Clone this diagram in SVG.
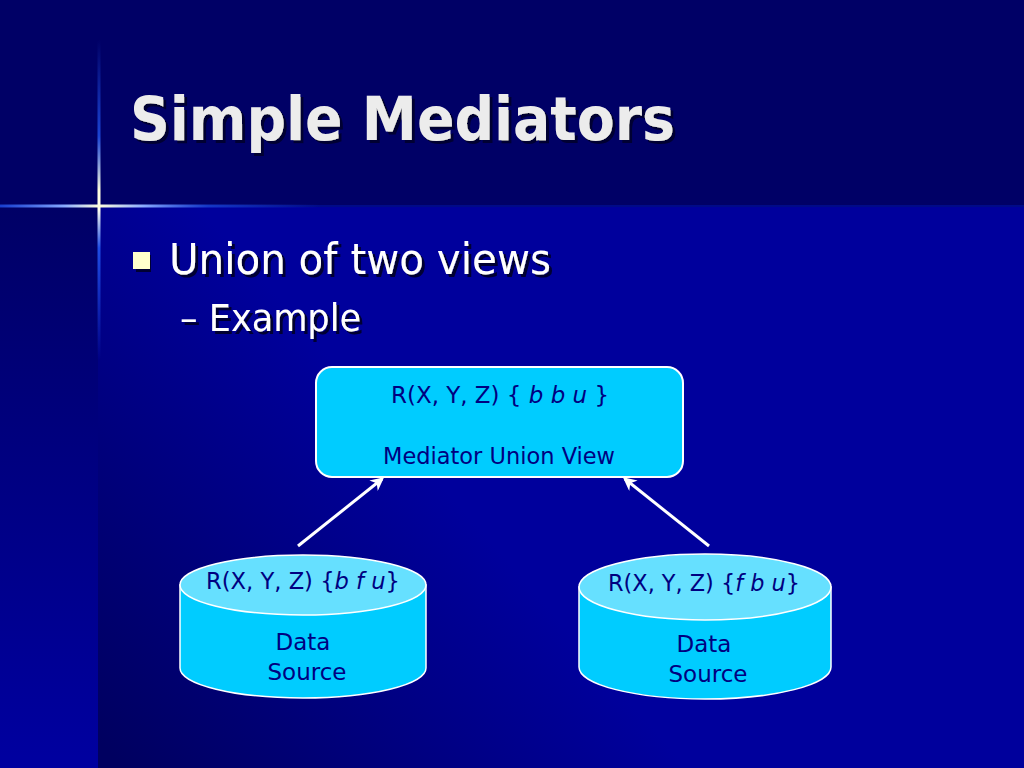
<svg xmlns="http://www.w3.org/2000/svg" width="1024" height="768" viewBox="0 0 1024 768">
  <defs>
    <linearGradient id="leftStrip" x1="0" y1="207" x2="0" y2="768" gradientUnits="userSpaceOnUse">
      <stop offset="0" stop-color="#000066"/>
      <stop offset="1" stop-color="#0000a0"/>
    </linearGradient>
    <linearGradient id="mainPanel" x1="98" y1="740" x2="420" y2="460" gradientUnits="userSpaceOnUse">
      <stop offset="0" stop-color="#000060"/>
      <stop offset="1" stop-color="#00009c"/>
    </linearGradient>
    <linearGradient id="vGlow" x1="0" y1="40" x2="0" y2="360" gradientUnits="userSpaceOnUse">
      <stop offset="0" stop-color="#2255ee" stop-opacity="0"/>
      <stop offset="0.3" stop-color="#2255ee" stop-opacity="0.8"/>
      <stop offset="0.47" stop-color="#ffffdd"/>
      <stop offset="0.53" stop-color="#ffffee"/>
      <stop offset="0.65" stop-color="#2255ee" stop-opacity="0.9"/>
      <stop offset="1" stop-color="#2255ee" stop-opacity="0"/>
    </linearGradient>
    <linearGradient id="hGlow" x1="0" y1="0" x2="320" y2="0" gradientUnits="userSpaceOnUse">
      <stop offset="0" stop-color="#2255ee" stop-opacity="0.7"/>
      <stop offset="0.2" stop-color="#88aaff"/>
      <stop offset="0.31" stop-color="#ffffdd"/>
      <stop offset="0.45" stop-color="#88aaff"/>
      <stop offset="0.65" stop-color="#2255ee" stop-opacity="0.6"/>
      <stop offset="1" stop-color="#2255ee" stop-opacity="0"/>
    </linearGradient>
    <filter id="textShadow" x="-5%" y="-20%" width="110%" height="140%">
      <feOffset in="SourceAlpha" dx="3" dy="3" result="off"/>
      <feFlood flood-color="#000033"/>
      <feComposite in2="off" operator="in" result="sh"/>
      <feMerge>
        <feMergeNode in="sh"/>
        <feMergeNode in="SourceGraphic"/>
      </feMerge>
    </filter>
    <marker id="arrow" viewBox="0 0 10 10" refX="8" refY="5" markerWidth="4.5" markerHeight="4.5" orient="auto" markerUnits="strokeWidth">
      <path d="M0,0 L10,5 L0,10 L3,5 Z" fill="#ffffff"/>
    </marker>
    <style>
      .title { font-family: "DejaVu Sans", "Liberation Sans", sans-serif; font-weight: bold; font-size: 60px; fill: #ececec; filter: url(#textShadow); }
      .body { font-family: "DejaVu Sans", "Liberation Sans", sans-serif; fill: #ffffff; filter: url(#textShadow); }
      .node-text { font-family: "DejaVu Sans", "Liberation Sans", sans-serif; font-size: 23px; fill: #000080; }
      .box { fill: #00ccff; stroke: #ffffff; stroke-width: 2; }
      .cyl-body { fill: #00ccff; stroke: #ffffff; stroke-width: 1.5; }
      .cyl-top { fill: #66e0ff; stroke: #ffffff; stroke-width: 1.5; }
      .conn { stroke: #ffffff; stroke-width: 3; fill: none; marker-end: url(#arrow); }
    </style>
  </defs>

  <!-- background -->
  <rect x="0" y="0" width="1024" height="768" fill="#000066"/>
  <rect x="0" y="207" width="98" height="561" fill="url(#leftStrip)"/>
  <rect x="98" y="207" width="926" height="561" fill="url(#mainPanel)"/>
  <rect x="0" y="205" width="1024" height="2" fill="#000a88"/>
  <rect x="97.5" y="40" width="3" height="320" fill="url(#vGlow)"/>
  <rect x="0" y="204.5" width="320" height="3" fill="url(#hGlow)"/>

  <!-- title -->
  <text class="title" x="130" y="140" textLength="545" lengthAdjust="spacingAndGlyphs">Simple Mediators</text>

  <!-- bullets -->
  <rect x="133" y="252" width="17" height="17" fill="#ffffcc" filter="url(#textShadow)"/>
  <text class="body" x="169" y="274" font-size="43" textLength="382" lengthAdjust="spacingAndGlyphs">Union of two views</text>
  <text class="body" x="180" y="331" font-size="37" textLength="181" lengthAdjust="spacingAndGlyphs">– Example</text>

  <!-- connectors -->
  <g id="connectors">
    <line class="conn" x1="298" y1="546" x2="382" y2="479"/>
    <line class="conn" x1="709" y1="546" x2="625" y2="479"/>
  </g>

  <!-- mediator node -->
  <g id="mediator">
    <rect class="box" x="316" y="367" width="367" height="110" rx="16" ry="16"/>
    <text class="node-text" x="500" y="403" text-anchor="middle" textLength="218" lengthAdjust="spacingAndGlyphs">R(X, Y, Z) { <tspan font-style="italic">b b u</tspan> }</text>
    <text class="node-text" x="499" y="464" text-anchor="middle" textLength="232" lengthAdjust="spacingAndGlyphs">Mediator Union View</text>
  </g>

  <!-- left data source -->
  <g id="source-left">
    <path class="cyl-body" d="M180,585 L180,668 A123,30 0 0 0 426,668 L426,585 Z"/>
    <ellipse class="cyl-top" cx="303" cy="585" rx="123" ry="30"/>
    <text class="node-text" x="303" y="589" text-anchor="middle" textLength="194" lengthAdjust="spacingAndGlyphs">R(X, Y, Z) {<tspan font-style="italic">b f u</tspan>}</text>
    <text class="node-text" x="303" y="650" text-anchor="middle">Data</text>
    <text class="node-text" x="307" y="680" text-anchor="middle">Source</text>
  </g>

  <!-- right data source -->
  <g id="source-right">
    <path class="cyl-body" d="M579,587 L579,667 A126,32 0 0 0 831,667 L831,587 Z"/>
    <ellipse class="cyl-top" cx="705" cy="587" rx="126" ry="33"/>
    <text class="node-text" x="704" y="591" text-anchor="middle" textLength="192" lengthAdjust="spacingAndGlyphs">R(X, Y, Z) {<tspan font-style="italic">f b u</tspan>}</text>
    <text class="node-text" x="704" y="652" text-anchor="middle">Data</text>
    <text class="node-text" x="708" y="682" text-anchor="middle">Source</text>
  </g>
</svg>
